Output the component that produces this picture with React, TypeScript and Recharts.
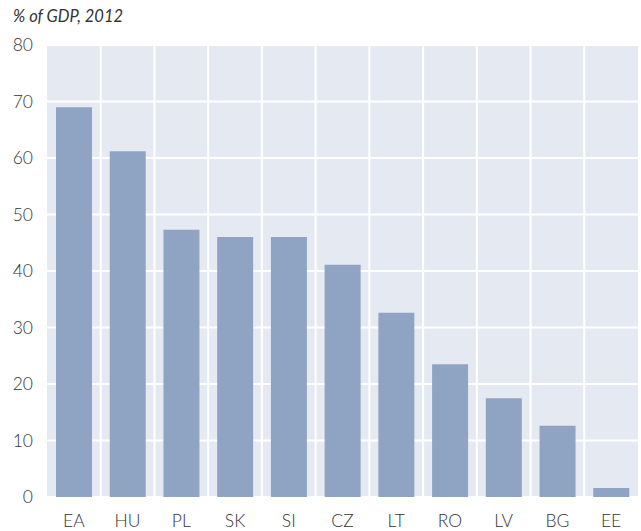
import { Bar, BarChart, CartesianGrid, XAxis, YAxis } from "recharts";

const COUNTRIES = ["EA", "HU", "PL", "SK", "SI", "CZ", "LT", "RO", "LV", "BG", "EE"];
const SHARE = [69.0, 61.2, 47.3, 46.0, 46.0, 41.1, 32.6, 23.5, 17.5, 12.6, 1.6];
const Y_TICKS = [0, 10, 20, 30, 40, 50, 60, 70, 80];

const data = COUNTRIES.map((c, i) => ({ country: c, value: SHARE[i] }));

const FONT = "Lato, 'Open Sans', sans-serif";
const tickStyle = { fill: "#333", fontSize: 17.5, fontFamily: FONT, fontWeight: 300 };

export default function App() {
  const n = COUNTRIES.length;
  return (
    <div style={{ position: "absolute", left: 0, top: 0, width: 641, height: 531, background: "#fff" }}>
      <div
        style={{
          position: "absolute",
          left: 13,
          top: 6,
          fontFamily: FONT,
          fontStyle: "italic",
          fontWeight: 400,
          fontSize: 16.5,
          color: "#333",
        }}
      >
        % of GDP, 2012
      </div>
      <BarChart
        width={641}
        height={531}
        data={data}
        margin={{ top: 45, right: 3, bottom: 0, left: 0 }}
      >
        <CartesianGrid
          fill="#e5e9f1"
          fillOpacity={1}
          stroke="#fff"
          strokeWidth={2}
          verticalCoordinatesGenerator={({ offset }) =>
            COUNTRIES.slice(1).map((_, i) => offset.left + (offset.width * (i + 1)) / n)
          }
        />
        <XAxis
          dataKey="country"
          axisLine={false}
          tickLine={false}
          tickSize={0}
          tickMargin={18}
          height={34}
          tick={tickStyle}
          interval={0}
        />
        <YAxis
          domain={[0, 80]}
          ticks={Y_TICKS}
          axisLine={false}
          tickLine={false}
          tickSize={0}
          tickMargin={14}
          width={47}
          tick={tickStyle}
        />
        <Bar dataKey="value" fill="#8fa4c3" barSize={36} isAnimationActive={false} />
      </BarChart>
    </div>
  );
}
